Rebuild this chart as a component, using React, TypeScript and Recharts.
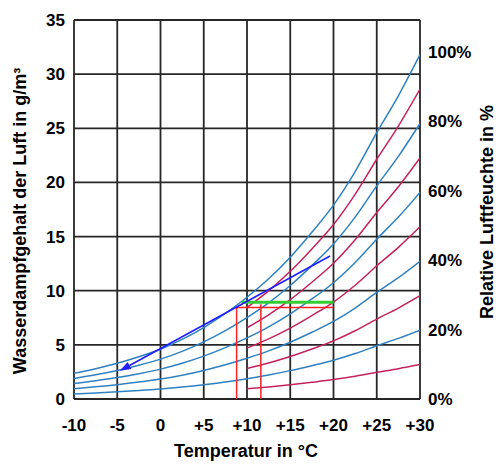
import React from "react";
import {
  ComposedChart,
  Line,
  XAxis,
  YAxis,
  CartesianGrid,
  ReferenceLine,
  Label,
} from "recharts";

// Temperatures (°C) for the full-range curves and for the red (odd-percent) curves
const temps = [-10, -7.5, -5, -2.5, 0, 2.5, 5, 7.5, 10, 12.5, 15, 17.5, 20, 22.5, 25, 27.5, 30];
const tempsRed = [10, 12.5, 15, 17.5, 20, 22.5, 25, 27.5, 30];

// Blue curves (100, 80, 60, 40, 20 %) in g/m³
const rh100 = [2.37, 2.8, 3.3, 3.9, 4.6, 5.5, 6.6, 7.9, 9.4, 11.1, 13.1, 15.4, 17.9, 21.0, 24.6, 28.0, 31.8];
const rh80 = [1.9, 2.24, 2.64, 3.12, 3.68, 4.4, 5.28, 6.32, 7.52, 8.88, 10.48, 12.32, 14.32, 16.8, 19.68, 22.4, 25.44];
const rh60 = [1.42, 1.68, 1.98, 2.34, 2.76, 3.3, 3.96, 4.74, 5.64, 6.66, 7.86, 9.24, 10.74, 12.6, 14.76, 16.8, 19.08];
const rh40 = [0.95, 1.12, 1.32, 1.56, 1.84, 2.2, 2.64, 3.16, 3.76, 4.44, 5.24, 6.16, 7.16, 8.4, 9.84, 11.2, 12.72];
const rh20 = [0.47, 0.56, 0.66, 0.78, 0.92, 1.1, 1.32, 1.58, 1.88, 2.22, 2.62, 3.08, 3.58, 4.2, 4.92, 5.6, 6.36];

// Red curves (90, 70, 50, 30, 10 %) in g/m³
const rh90 = [8.46, 9.99, 11.79, 13.86, 16.11, 18.9, 22.14, 25.2, 28.62];
const rh70 = [6.58, 7.77, 9.17, 10.78, 12.53, 14.7, 17.22, 19.6, 22.26];
const rh50 = [4.7, 5.55, 6.55, 7.7, 8.95, 10.5, 12.3, 14.0, 15.9];
const rh30 = [2.82, 3.33, 3.93, 4.62, 5.37, 6.3, 7.38, 8.4, 9.54];
const rh10 = [0.94, 1.11, 1.31, 1.54, 1.79, 2.1, 2.46, 2.8, 3.18];

// Axis ticks
const xTicks = [-10, -5, 0, 5, 10, 15, 20, 25, 30];
const yTicks = [0, 5, 10, 15, 20, 25, 30, 35];
const rhTicks = [0, 20, 40, 60, 80, 100];

// Annotation values (temperature °C, g/m³)
const arrowStart = { x: 19.6, y: 13.2 };
const arrowEnd = { x: -4.7, y: 2.6 };
const greenLevel = 8.93;
const greenFrom = 9.4;
const redLevel = 8.45;
const dewPointT = 8.8;
const secondT = 11.6;
const secondTop = 8.75;
const rightT = 20;

const BLUE = "#2f80c2";
const RED = "#c4225c";
const FONT = "Arial, 'Liberation Sans', sans-serif";

const toRows = (xs: number[], vs: number[]) => xs.map((t, i) => ({ t, v: vs[i] }));

const blueSeries = [rh100, rh80, rh60, rh40, rh20].map((a) => toRows(temps, a));
const redSeries = [rh90, rh70, rh50, rh30, rh10].map((a) => toRows(tempsRed, a));
// invisible series that gives the right-hand percentage axis its scale
const rhRows = rhTicks.map((v) => ({ t: 30, v }));

const fmtX = (t: number) => (t > 0 ? `+${t}` : `${t}`);

const ArrowShape = (props: any) => {
  const { x1, y1, x2, y2 } = props;
  const ang = Math.atan2(y2 - y1, x2 - x1);
  const L = 11;
  const W = 4;
  const bx = x2 - L * Math.cos(ang);
  const by = y2 - L * Math.sin(ang);
  const px = -Math.sin(ang) * W;
  const py = Math.cos(ang) * W;
  return (
    <g>
      <line x1={x1} y1={y1} x2={bx} y2={by} stroke="#1f1fff" strokeWidth={1.6} />
      <polygon
        points={`${x2},${y2} ${bx + px},${by + py} ${bx - px},${by - py}`}
        fill="#1f1fff"
      />
    </g>
  );
};

const tickStyle = { fill: "#000", fontSize: 17, fontWeight: 700, fontFamily: FONT };

export default function App() {
  return (
    <div style={{ position: "absolute", left: 0, top: 0 }}>
      <ComposedChart
        width={500}
        height={471}
        margin={{ top: 20, right: 0, bottom: 0, left: 0 }}
      >
        <CartesianGrid stroke="#262626" strokeWidth={1.8} />
        <XAxis
          type="number"
          dataKey="t"
          domain={[-10, 30]}
          ticks={xTicks}
          tickFormatter={fmtX}
          axisLine={false}
          tickLine={false}
          tickSize={0}
          tickMargin={20}
          height={72}
          allowDataOverflow
          tick={tickStyle}
        >
          <Label
            content={() => (
              <text
                x={246}
                y={457}
                textAnchor="middle"
                fill="#000"
                fontSize={18}
                fontWeight={700}
                fontFamily={FONT}
              >
                Temperatur in °C
              </text>
            )}
          />
        </XAxis>
        <YAxis
          type="number"
          domain={[0, 35]}
          ticks={yTicks}
          width={74}
          axisLine={false}
          tickLine={false}
          tickSize={0}
          tickMargin={9}
          allowDataOverflow
          tick={tickStyle}
        >
          <Label
            content={() => (
              <text
                x={26}
                y={221}
                transform="rotate(-90 26 221)"
                textAnchor="middle"
                fill="#000"
                fontSize={18}
                fontWeight={700}
                fontFamily={FONT}
              >
                Wasserdampfgehalt der Luft in g/m³
              </text>
            )}
          />
        </YAxis>
        <YAxis
          yAxisId="rh"
          orientation="right"
          type="number"
          domain={[0, 109.2]}
          ticks={rhTicks}
          tickFormatter={(v: number) => `${v}%`}
          width={80}
          axisLine={false}
          tickLine={false}
          tickSize={0}
          tickMargin={8}
          allowDataOverflow
          tick={tickStyle}
        >
          <Label
            content={() => (
              <text
                x={493}
                y={212}
                transform="rotate(-90 493 212)"
                textAnchor="middle"
                fill="#000"
                fontSize={18}
                fontWeight={700}
                fontFamily={FONT}
              >
                Relative Luftfeuchte in %
              </text>
            )}
          />
        </YAxis>

        <Line
          yAxisId="rh"
          data={rhRows}
          dataKey="v"
          stroke="none"
          dot={false}
          activeDot={false}
          legendType="none"
          isAnimationActive={false}
        />

        {blueSeries.map((rows, i) => (
          <Line
            key={`b${i}`}
            data={rows}
            dataKey="v"
            type="monotone"
            dot={false}
            stroke={BLUE}
            strokeWidth={1.5}
            isAnimationActive={false}
          />
        ))}
        {redSeries.map((rows, i) => (
          <Line
            key={`r${i}`}
            data={rows}
            dataKey="v"
            type="monotone"
            dot={false}
            stroke={RED}
            strokeWidth={1.5}
            isAnimationActive={false}
          />
        ))}

        <ReferenceLine
          segment={[{ x: dewPointT, y: 0 }, { x: dewPointT, y: redLevel }]}
          stroke="#ff2222"
          strokeWidth={1.5}
        />
        <ReferenceLine
          segment={[{ x: secondT, y: 0 }, { x: secondT, y: secondTop }]}
          stroke="#ff2222"
          strokeWidth={1.5}
        />
        <ReferenceLine
          segment={[{ x: dewPointT, y: redLevel }, { x: rightT, y: redLevel }]}
          stroke="#ff2222"
          strokeWidth={1.5}
        />
        <ReferenceLine
          segment={[{ x: greenFrom, y: greenLevel }, { x: rightT, y: greenLevel }]}
          stroke="#33cc33"
          strokeWidth={3}
        />
        <ReferenceLine
          segment={[arrowStart, arrowEnd]}
          shape={ArrowShape}
        />
      </ComposedChart>
    </div>
  );
}
